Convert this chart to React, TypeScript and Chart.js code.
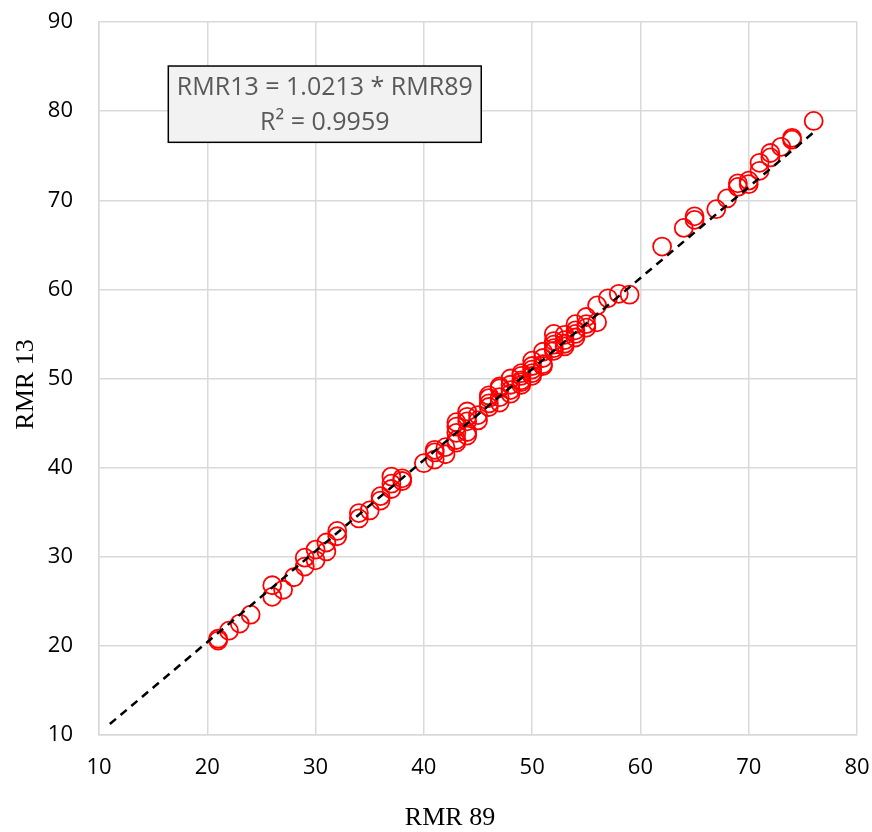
import React, { useEffect, useRef } from "react";
import { Chart, registerables } from "chart.js";
Chart.register(...registerables);

// RMR 89 (x) values
const rmr89 = [
  21, 21, 22, 23, 24, 26, 26, 27, 28, 29, 29, 30, 30, 31, 31, 32, 32, 34, 34, 35,
  36, 36, 37, 37, 37, 38, 38, 40, 41, 41, 41, 42, 42, 43, 43, 43, 43, 43, 44, 44,
  44, 44, 44, 45, 45, 46, 46, 46, 46, 47, 47, 47, 47, 48, 48, 48, 48, 49, 49, 49,
  49, 49, 50, 50, 50, 50, 50, 51, 51, 51, 51, 52, 52, 52, 52, 52, 53, 53, 53, 53,
  54, 54, 54, 54, 55, 55, 55, 56, 56, 57, 58, 59, 62, 64, 65, 65, 67, 68, 69, 69,
  70, 70, 71, 71, 72, 72, 73, 74, 74, 76,
];
// RMR 13 (y) values
const rmr13 = [
  20.8, 20.6, 21.7, 22.5, 23.5, 26.8, 25.5, 26.3, 27.7, 28.9, 29.9, 30.8, 29.6, 31.6, 30.6, 32.9, 32.3, 34.9, 34.3, 35.2,
  36.8, 36.3, 37.6, 38.2, 39.0, 38.8, 38.5, 40.5, 40.9, 41.7, 42.0, 42.3, 41.5, 43.1, 43.9, 45.1, 44.6, 42.8, 45.7, 46.3,
  44.0, 43.6, 45.2, 45.9, 45.3, 46.8, 47.8, 47.2, 48.1, 47.9, 47.3, 48.9, 49.1, 48.3, 49.3, 50.0, 48.7, 49.3, 49.8, 50.3,
  50.6, 49.6, 50.6, 51.4, 52.0, 51.0, 50.3, 51.6, 52.3, 53.0, 51.4, 53.1, 53.8, 55.0, 53.4, 54.2, 53.6, 54.3, 54.9, 53.9,
  54.6, 55.4, 56.1, 55.0, 56.1, 56.9, 55.7, 56.3, 58.2, 59.0, 59.5, 59.4, 64.8, 66.9, 67.8, 68.2, 69.0, 70.2, 71.5, 71.9,
  71.8, 72.2, 73.3, 74.2, 74.8, 75.3, 76.0, 76.8, 77.0, 78.9,
];

// Trendline (through origin) fitted result
const slope = 1.0213;
const rSquared = 0.9959;
const trendX = [11, 76];

const xTitle = "RMR 89";
const yTitle = "RMR 13";
const eqLine1 = `RMR13 = ${slope.toFixed(4)} * RMR89`;
const eqLine2 = `R² = ${rSquared.toFixed(4)}`;

const gridColor = "#d9d9d9";

const overlayPlugin = {
  id: "overlay",
  afterDatasetsDraw(chart: any) {
    const { ctx, scales } = chart;
    const x = scales.x;
    const y = scales.y;
    // equation box (anchored to data space)
    const left = x.getPixelForValue(16.4);
    const right = x.getPixelForValue(45.3);
    const top = y.getPixelForValue(85.06);
    const bottom = y.getPixelForValue(76.5);
    ctx.save();
    ctx.fillStyle = "#f2f2f2";
    ctx.fillRect(left, top, right - left, bottom - top);
    ctx.strokeStyle = "#000000";
    ctx.lineWidth = 1.5;
    ctx.strokeRect(left, top, right - left, bottom - top);
    ctx.fillStyle = "#595959";
    ctx.font = '25px "Open Sans", sans-serif';
    ctx.textAlign = "center";
    ctx.textBaseline = "middle";
    const cx = (left + right) / 2;
    const h = bottom - top;
    ctx.fillText(eqLine1, cx, top + h * 0.29);
    ctx.fillText(eqLine2, cx, top + h * 0.75);
    ctx.restore();
  },
  afterDraw(chart: any) {
    const { ctx, chartArea } = chart;
    ctx.save();
    ctx.fillStyle = "#000000";
    ctx.font = '26px "Liberation Serif", "Times New Roman", serif';
    ctx.textAlign = "center";
    ctx.textBaseline = "middle";
    const cx = (chartArea.left + chartArea.right) / 2 - 28;
    ctx.fillText(xTitle, cx, chart.height - 14);
    ctx.translate(26, (chartArea.top + chartArea.bottom) / 2 + 6);
    ctx.rotate(-Math.PI / 2);
    ctx.fillText(yTitle, 0, 0);
    ctx.restore();
  },
};

const zeroPad = (s: any) => {
  s.paddingLeft = 0;
  s.paddingRight = 0;
  s.paddingTop = 0;
  s.paddingBottom = 0;
};

export default function App() {
  const ref = useRef<HTMLCanvasElement>(null);
  useEffect(() => {
    document.body.style.margin = "0";
    const canvas = ref.current!;
    const points = rmr89.map((v, i) => ({ x: v, y: rmr13[i] }));
    const trend = trendX.map((v) => ({ x: v, y: v * slope }));
    const tickFont = { family: '"Open Sans", sans-serif', size: 22 };
    const chart = new Chart(canvas, {
      type: "scatter",
      data: {
        datasets: [
          {
            type: "line",
            data: trend,
            borderColor: "#000000",
            borderWidth: 2.5,
            borderDash: [8, 6],
            pointRadius: 0,
            fill: false,
            order: 0,
          } as any,
          {
            data: points,
            pointStyle: "circle",
            pointRadius: 9,
            pointHoverRadius: 9,
            borderColor: "#ff0000",
            borderWidth: 1.8,
            backgroundColor: "rgba(0,0,0,0)",
            order: 1,
          },
        ],
      },
      options: {
        animation: false,
        responsive: false,
        devicePixelRatio: 1,
        events: [],
        layout: { padding: { left: 0, right: 15, top: 22, bottom: 0 } },
        plugins: { legend: { display: false }, tooltip: { enabled: false } },
        scales: {
          x: {
            type: "linear",
            min: 10,
            max: 80,
            ticks: { stepSize: 10, color: "#000", font: tickFont, padding: 20 },
            grid: { color: gridColor, lineWidth: 1.5, drawTicks: false },
            border: { display: true, color: gridColor, width: 1.5 },
            afterFit: (s: any) => {
              s.height = 97;
              zeroPad(s);
            },
          },
          y: {
            type: "linear",
            min: 10,
            max: 90,
            ticks: { stepSize: 10, color: "#000", font: tickFont, padding: 26 },
            grid: { color: gridColor, lineWidth: 1.5, drawTicks: false },
            border: { display: true, color: gridColor, width: 1.5 },
            afterFit: (s: any) => {
              s.width = 99;
              zeroPad(s);
            },
          },
        },
      },
      plugins: [overlayPlugin],
    });
    return () => chart.destroy();
  }, []);
  return (
    <div style={{ width: 872, height: 832 }}>
      <canvas ref={ref} width={872} height={832} style={{ display: "block" }} />
    </div>
  );
}
